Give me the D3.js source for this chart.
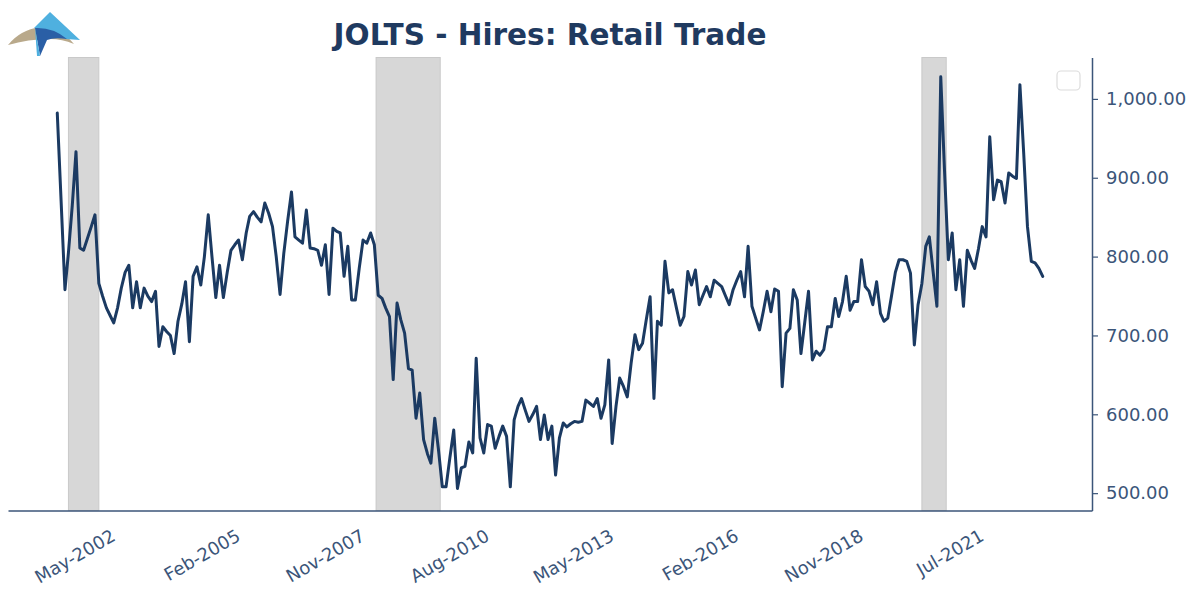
<!DOCTYPE html>
<html>
<head>
<meta charset="UTF-8">
<title>JOLTS - Hires: Retail Trade</title>
<script src="https://d3js.org/d3.v7.min.js"></script>
<style>
	body { margin: 0; background: #fff; }
	text { font-family: "DejaVu Sans", sans-serif; }
</style>
</head>
<body>
<script>
// monthly series, Dec-2000 .. Sep-2022 (thousands)
var firstMonth = "2000-12";
var lastMonth = "2022-09";
var hires = [
	982, 870, 758, 805, 865, 933, 811, 808, 823, 838, 853, 766,
	750, 735, 725, 716, 735, 760, 780, 789, 735, 768, 735, 760,
	750, 743, 756, 686, 711, 705, 700, 677, 718, 740, 768, 692,
	775, 787, 764, 800, 853, 800, 748, 789, 748, 780, 808, 815,
	821, 796, 830, 851, 857, 850, 844, 868, 855, 838, 800, 752,
	804, 845, 882, 825, 821, 817, 859, 811, 810, 808, 789, 815,
	752, 836, 832, 830, 775, 813, 745, 745, 785, 821, 817, 830,
	815, 751, 747, 735, 724, 644, 741, 720, 703, 658, 656, 595,
	627, 568, 550, 538, 595, 555, 508, 508, 545, 580, 506, 532,
	534, 565, 551, 671, 570, 551, 587, 585, 557, 572, 585, 572,
	508, 593, 610, 620, 605, 591, 600, 610, 568, 599, 568, 585,
	523, 570, 589, 584, 588, 591, 590, 591, 618, 614, 610, 620,
	595, 612, 669, 563, 610, 646, 635, 622, 665, 701, 682, 690,
	720, 749, 620, 718, 713, 794, 754, 758, 735, 713, 724, 781,
	764, 783, 739, 750, 762, 749, 770, 766, 762, 750, 739, 758,
	770, 781, 749, 813, 737, 722, 707, 730, 756, 730, 759, 756,
	635, 703, 709, 758, 745, 677, 717, 756, 669, 680, 675, 682,
	711, 711, 747, 724, 743, 775, 732, 743, 743, 796, 762, 756,
	739, 768, 728, 718, 722, 750, 780, 796, 796, 794, 779, 688,
	739, 766, 813, 825, 780, 737, 1028, 910, 796, 830, 758, 796,
	737, 808, 795, 785, 810, 838, 825, 952, 872, 897, 895, 868,
	906, 902, 899, 1018, 930, 838, 794, 792, 785, 775
];
var tickLabels = ["May-2002", "Feb-2005", "Nov-2007", "Aug-2010", "May-2013", "Feb-2016", "Nov-2018", "Jul-2021"];
var yTicks = [500, 600, 700, 800, 900, 1000];
var recessions = [["2001-03-01", "2001-11-01"], ["2007-12-15", "2009-05-15"], ["2020-01-01", "2020-07-15"]];

var width = 1200, height = 594;
var plotLeft = 8, plotRight = 1092, plotTop = 57.5, plotBottom = 510.5;
var navy = "#1b3a62", slate = "#3b5579";

var parseMonth = d3.timeParse("%Y-%m");
var parseDay = d3.timeParse("%Y-%m-%d");
var parseTick = d3.timeParse("%b-%Y");
var fmtTick = d3.timeFormat("%b-%Y");

var months = d3.timeMonth.range(parseMonth(firstMonth), d3.timeMonth.offset(parseMonth(lastMonth), 1));
var data = months.map(function(m, i) { return { date: m, value: hires[i] }; });

var t0 = months[0].getTime(), t1 = months[months.length - 1].getTime();
var pad = (t1 - t0) * 0.05;

var x = d3.scaleTime()
	.domain([new Date(t0 - pad), new Date(t1 + pad)])
	.range([plotLeft, plotRight]);
var y = d3.scaleLinear()
	.domain([478, 1052.5])
	.range([plotBottom, plotTop]);

var svg = d3.select("body").append("svg")
	.attr("width", width)
	.attr("height", height);

// logo
var logo = svg.append("g");
logo.append("path")
	.attr("d", "M8,45 Q20,30 40,27 Q60,27 74,44 Q62,39 50,39 Q28,39 8,45 Z")
	.attr("fill", "#b9a98b");
logo.append("path")
	.attr("d", "M50,12 L80,40 L66,39 Q52,30 34,28 Z")
	.attr("fill", "#4fb0df");
logo.append("path")
	.attr("d", "M35,28 Q53,27 67,39 Q54,37 47,40 L40,56 Z")
	.attr("fill", "#2a5fa6");
logo.append("path")
	.attr("d", "M35,28 L40,56 L37,56 Z")
	.attr("fill", "#4fb0df");

// title
svg.append("text")
	.attr("x", (plotLeft + plotRight) / 2)
	.attr("y", 45)
	.attr("text-anchor", "middle")
	.attr("font-size", 29.5)
	.attr("font-weight", "bold")
	.attr("fill", "#1f3a60")
	.text("JOLTS - Hires: Retail Trade");

// recession bands
svg.selectAll("rect.band")
	.data(recessions)
	.enter().append("rect")
	.attr("class", "band")
	.attr("x", function(d) { return x(parseDay(d[0])); })
	.attr("y", plotTop)
	.attr("width", function(d) { return x(parseDay(d[1])) - x(parseDay(d[0])); })
	.attr("height", plotBottom - plotTop)
	.attr("fill", "#d7d7d7")
	.attr("stroke", "#c9c9c9")
	.attr("stroke-width", 1);

// series
var line = d3.line()
	.x(function(d) { return x(d.date); })
	.y(function(d) { return y(d.value); });

svg.append("path")
	.datum(data)
	.attr("d", line)
	.attr("fill", "none")
	.attr("stroke", navy)
	.attr("stroke-width", 3)
	.attr("stroke-linejoin", "round")
	.attr("stroke-linecap", "round");

// bottom axis
var xAxis = svg.append("g")
	.attr("transform", "translate(0," + plotBottom + ")")
	.call(d3.axisBottom(x)
		.tickValues(tickLabels.map(parseTick))
		.tickFormat(fmtTick)
		.tickSize(0)
		.tickSizeOuter(0));
xAxis.select(".domain").attr("stroke", slate).attr("stroke-width", 1.5);
xAxis.selectAll("text")
	.attr("x", 0).attr("y", 0).attr("dy", 0)
	.attr("transform", "translate(-5,29) rotate(-30)")
	.style("text-anchor", "end")
	.attr("font-size", 18)
	.attr("fill", slate);

// right axis
var yAxis = svg.append("g")
	.attr("transform", "translate(" + plotRight + ",0)")
	.call(d3.axisRight(y)
		.tickValues(yTicks)
		.tickFormat(d3.format(",.2f"))
		.tickSize(6)
		.tickSizeOuter(0)
		.tickPadding(8));
yAxis.select(".domain").attr("stroke", slate).attr("stroke-width", 1.5);
yAxis.selectAll(".tick line").attr("stroke", slate).attr("stroke-width", 1.2);
yAxis.selectAll("text")
	.attr("font-size", 18)
	.attr("fill", slate);

// empty legend frame
svg.append("rect")
	.attr("x", 1057).attr("y", 71)
	.attr("width", 23).attr("height", 19)
	.attr("rx", 4)
	.attr("fill", "#fff")
	.attr("stroke", "#dcdcdc")
	.attr("stroke-width", 1.2);
</script>
</body>
</html>
